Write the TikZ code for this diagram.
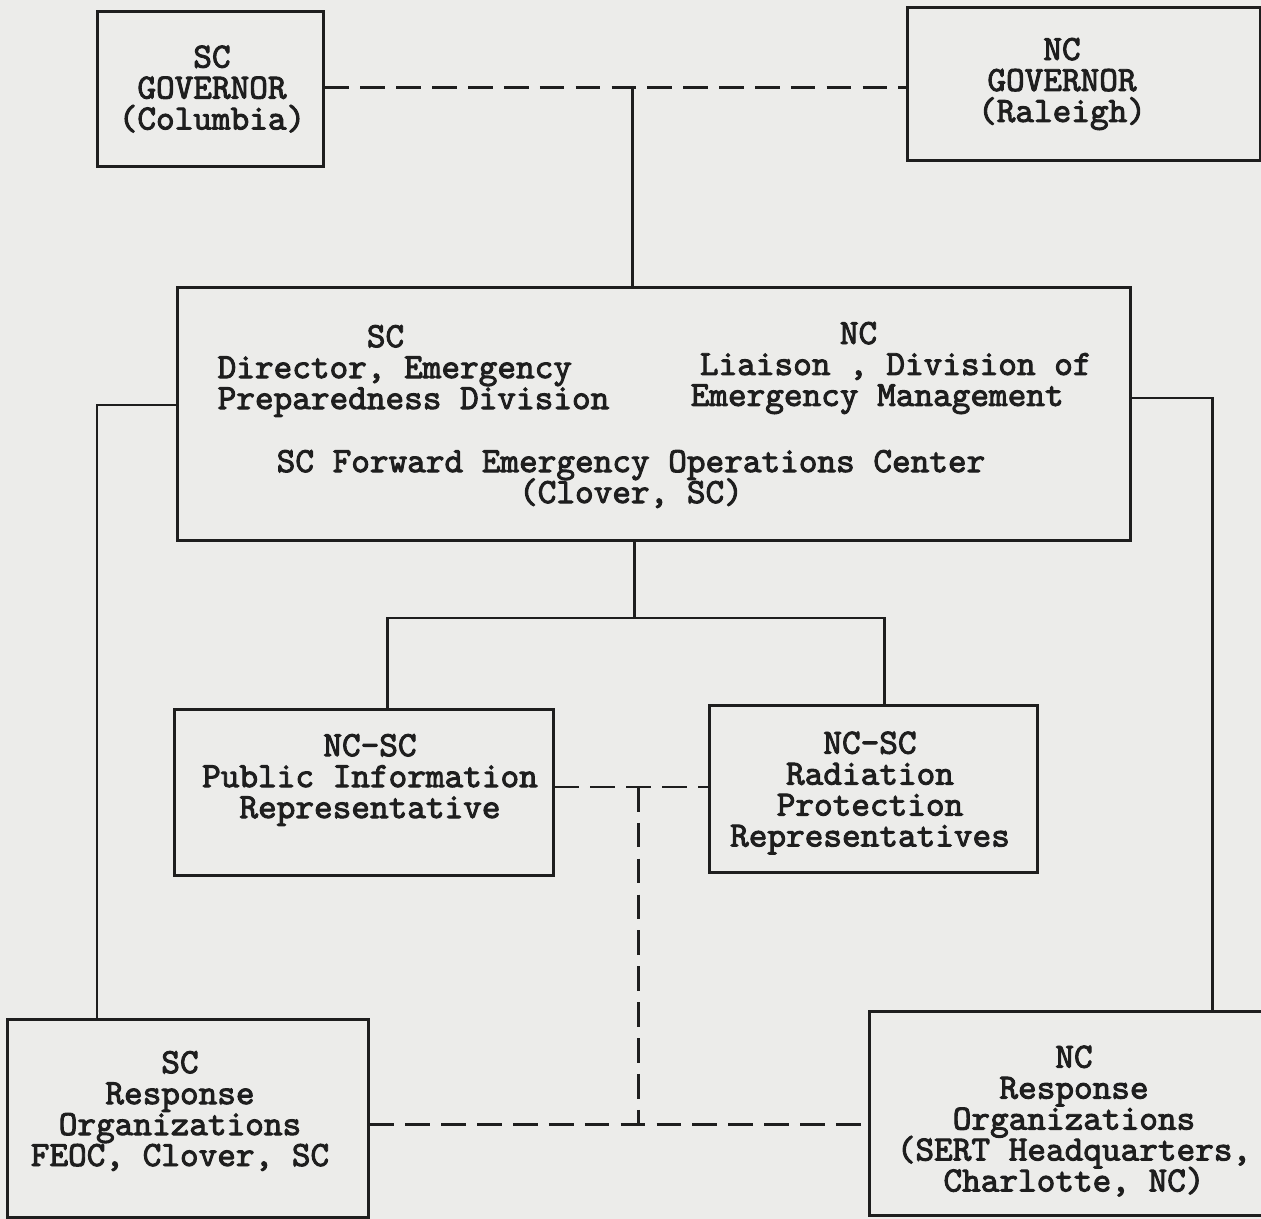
\documentclass[tikz,border=0pt]{standalone}
\usepackage{fontspec}
\setmonofont{lmmono10-regular.otf}[AutoFakeBold=2.6]
\usetikzlibrary{positioning}
\definecolor{paper}{RGB}{236,236,234}
\definecolor{ink}{RGB}{30,30,30}
\newcommand{\orgfont}{\ttfamily\bfseries\fontsize{10.1}{8.8}\selectfont\lineskiplimit=-10pt\relax}
\tikzset{
  orgbox/.style={draw=ink, line width=0.85pt, inner sep=0pt},
  orgtext/.style={font=\orgfont, text=ink, align=center, inner sep=0pt},
  link/.style={draw=ink, line width=0.85pt},
  dashlink/.style={link, dash pattern=on 7pt off 3.2pt}
}
\begin{document}
\begin{tikzpicture}[x=0.01cm, y=-0.01cm]
  \fill[paper] (0,0) rectangle (1261,1219);
  \useasboundingbox (0,0) rectangle (1261,1219);
  \clip (0,0) rectangle (1261,1219);

  % governors
  \node[orgbox, minimum width=2.25cm, minimum height=1.54cm] (scgov) at (210.5,89) {};
  \node[orgtext] (scgovtxt) at (212,89) {SC\\GOVERNOR\\(Columbia)};
  \node[orgbox, minimum width=3.52cm, minimum height=1.52cm] (ncgov) at (1084,84) {};
  \node[orgtext] (ncgovtxt) at (1062,84) {NC\\GOVERNOR\\(Raleigh)};

  % forward EOC
  \node[orgbox, minimum width=9.52cm, minimum height=2.52cm] (feoc) at (654,414) {};
  \node[orgtext, align=left, anchor=west] (scdir) at (217,371)
    {\hspace*{4.2em}SC\\Director, Emergency\\Preparedness Division};
  \node[orgtext, align=left, anchor=west] (ncliaison) at (690,368)
    {\hspace*{4.2em}NC\\\hspace*{0.26em}Liaison , Division of\\Emergency Management};
  \node[orgtext] (feoctxt) at (631,479)
    {SC Forward Emergency Operations Center\\(Clover, SC)};

  % representatives
  \node[orgbox, minimum width=3.78cm, minimum height=1.65cm] (pubinfo) at (364,792.5) {};
  \node[orgtext] (pubinfotxt) at (370,780) {NC-SC\\Public Information\\Representative};
  \node[orgbox, minimum width=3.27cm, minimum height=1.66cm] (radprot) at (873.5,789) {};
  \node[orgtext] (radprottxt) at (870,793) {NC-SC\\Radiation\\Protection\\Representatives};

  % response organizations
  \node[orgbox, minimum width=3.60cm, minimum height=1.97cm] (scresp) at (188,1118.5) {};
  \node[orgtext] (sceresptxt) at (180,1111) {SC\\Response\\Organizations\\FEOC, Clover, SC};
  \node[orgbox, minimum width=3.92cm, minimum height=2.03cm] (ncresp) at (1066,1113.5) {};
  \node[orgtext] (ncresptxt) at (1074,1121) {NC\\Response\\Organizations\\(SERT Headquarters,\\Charlotte, NC)};

  % junction points
  \coordinate (govjoin) at (632,88);
  \coordinate (split) at (634,618);
  \coordinate (splitl) at (387,618);
  \coordinate (splitr) at (884,618);
  \coordinate (leftrun) at (97,405);
  \coordinate (rightrun) at (1212,398);
  \coordinate (repjoin) at (638,787);
  \coordinate (respjoin) at (638,1124);

  % connectors
  \draw[dashlink] (scgov.east |- govjoin) -- (ncgov.west |- govjoin);
  \draw[link] (govjoin) -- (govjoin |- feoc.north);
  \draw[link] (split |- feoc.south) -- (split);
  \draw[link] (splitl |- pubinfo.north) -- (splitl) -- (splitr) -- (splitr |- radprot.north);
  \draw[link] (feoc.west |- leftrun) -- (leftrun) -- (leftrun |- scresp.north);
  \draw[link] (feoc.east |- rightrun) -- (rightrun) -- (rightrun |- ncresp.north);
  \draw[dashlink] (pubinfo.east |- repjoin) -- (radprot.west |- repjoin);
  \draw[dashlink] (repjoin) -- (respjoin);
  \draw[dashlink] (scresp.east |- respjoin) -- (ncresp.west |- respjoin);
\end{tikzpicture}
\end{document}
